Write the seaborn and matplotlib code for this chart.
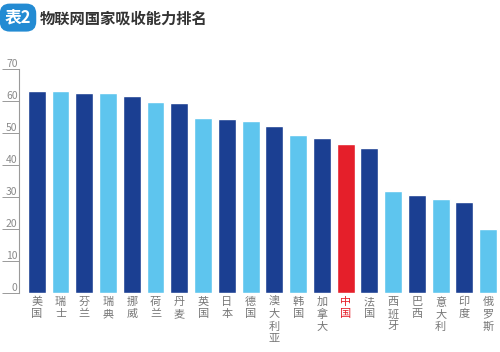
import matplotlib
matplotlib.use('Agg')
import matplotlib.pyplot as plt
import pandas as pd
import seaborn as sns

countries = ['美国', '瑞士', '芬兰', '瑞典', '挪威', '荷兰', '丹麦', '英国', '日本', '德国',
             '澳大利亚', '韩国', '加拿大', '中国', '法国', '西班牙', '巴西', '意大利', '印度', '俄罗斯']
scores = [63.1, 63.0, 62.6, 62.5, 61.6, 59.6, 59.5, 54.8, 54.4, 53.6,
          52.1, 49.5, 48.5, 46.5, 45.2, 31.7, 30.7, 29.5, 28.3, 19.9]
yticks = [0, 10, 20, 30, 40, 50, 60, 70]

DARK = '#1b3f92'
LIGHT = '#5ec5ee'
RED = '#e51f2a'
colors = [RED if c == '中国' else (DARK if i % 2 == 0 else LIGHT) for i, c in enumerate(countries)]

df = pd.DataFrame({'country': countries, 'score': scores})

sns.set_style('white')
plt.rcParams['font.family'] = ['Noto Sans CJK SC', 'DejaVu Sans']

fig = plt.figure(figsize=(5, 3.52), dpi=100)
ax = fig.add_axes([0.038, 0.168, 0.962, 0.636])

sns.barplot(data=df, x='country', y='score', hue='country', palette=colors,
            width=0.75, saturation=1, legend=False, ax=ax)

ax.set_xlim(-0.75, 19.5)
ax.set_ylim(0, 70)
ax.set_yticks(yticks)
ax.set_xlabel('')
ax.set_ylabel('')

for s in ['top', 'right', 'bottom']:
    ax.spines[s].set_visible(False)
ax.spines['left'].set_color('#9a9a9a')
ax.spines['left'].set_linewidth(0.8)

ax.tick_params(axis='y', direction='out', length=12, width=0.7, color='#9a9a9a',
               pad=-11, labelsize=7.5, labelcolor='#8a8a8a', left=True)
for lbl in ax.get_yticklabels():
    lbl.set_va('bottom')

ax.set_xticks(range(len(countries)))
ax.set_xticklabels(['\n'.join(c) for c in countries], linespacing=1.25)
ax.tick_params(axis='x', length=0, pad=3, labelsize=8, labelcolor='#777777')
for lbl, c in zip(ax.get_xticklabels(), countries):
    lbl.set_va('top')
    if c == '中国':
        lbl.set_color(RED)

fig.text(0.036, 0.95, '表2', ha='center', va='center', fontsize=12, fontweight='bold',
         color='white', bbox=dict(boxstyle='round,pad=0.3,rounding_size=0.6', fc='#238bd3', ec='none'))
fig.text(0.08, 0.948, '物联网国家吸收能力排名', ha='left', va='center', fontsize=11,
         fontweight='bold', color='#333333')

fig.savefig('out.png', dpi=100)
